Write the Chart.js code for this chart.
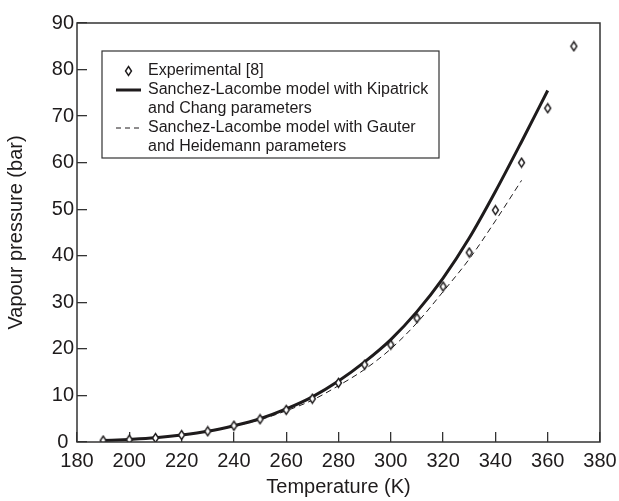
<!DOCTYPE html>
<html>
<head>
<meta charset="utf-8">
<script src="https://cdn.jsdelivr.net/npm/chart.js@4.4.1/dist/chart.umd.min.js"></script>
<style>
  html, body { margin: 0; padding: 0; background: #fff; }
  #wrap { width: 619px; height: 501px; }
</style>
</head>
<body>
<div id="wrap"><canvas id="vapourChart" width="619" height="501"></canvas></div>
<script>
// Experimental vapour pressure, temperature in K, pressure in bar
const expTemps = [190, 200, 210, 220, 230, 240, 250, 260, 270, 280, 290, 300, 310, 320, 330, 340, 350, 360, 370];
const expPressure = [0.3, 0.5, 0.85, 1.5, 2.3, 3.5, 4.9, 6.9, 9.3, 12.7, 16.6, 20.9, 26.6, 33.4, 40.7, 49.8, 60.0, 71.7, 85.0];

// Sanchez-Lacombe, Kipatrick and Chang parameters
const kcTemps = [190, 200, 210, 220, 230, 240, 250, 260, 270, 280, 290, 300, 310, 320, 330, 340, 350, 360];
const kcPressure = [0.3, 0.55, 0.9, 1.5, 2.3, 3.5, 5.0, 7.1, 9.7, 13.1, 17.2, 22.0, 28.0, 35.2, 43.8, 53.8, 64.5, 75.5];

// Sanchez-Lacombe, Gauter and Heidemann parameters
const ghTemps = [190, 200, 210, 220, 230, 240, 250, 260, 270, 280, 290, 300, 310, 320, 330, 340, 350];
const ghPressure = [0.3, 0.55, 0.9, 1.45, 2.25, 3.4, 4.8, 6.7, 9.0, 12.1, 15.6, 20.0, 25.6, 32.3, 39.3, 47.5, 56.2];

const legendLines = [
    ['Experimental [8]'],
    ['Sanchez-Lacombe model with Kipatrick', 'and Chang parameters'],
    ['Sanchez-Lacombe model with Gauter', 'and Heidemann parameters']
];

const ink = '#1e1b1c';
const fontFamily = '"Liberation Sans", Arial, Helvetica, sans-serif';

function toXY(xs, ys) {
    return xs.map((x, i) => ({ x: x, y: ys[i] }));
}

// open diamond, a bit taller than wide
function diamondMark(w, h) {
    const c = document.createElement('canvas');
    c.width = w + 3;
    c.height = h + 3;
    const g = c.getContext('2d');
    const cx = c.width / 2, cy = c.height / 2;
    g.beginPath();
    g.moveTo(cx, cy - h / 2);
    g.lineTo(cx + w / 2, cy);
    g.lineTo(cx, cy + h / 2);
    g.lineTo(cx - w / 2, cy);
    g.closePath();
    g.fillStyle = '#fff';
    g.fill();
    g.strokeStyle = ink;
    g.lineWidth = 1.4;
    g.stroke();
    return c;
}
const diamond = diamondMark(6, 9);

// closed box round the plot area
const frame = {
    id: 'frame',
    afterDraw(chart) {
        const { ctx, chartArea: a } = chart;
        ctx.save();
        ctx.strokeStyle = '#333';
        ctx.lineWidth = 1.5;
        ctx.strokeRect(a.left, a.top, a.right - a.left, a.bottom - a.top);
        ctx.restore();
    }
};

// boxed legend with wrapped labels
const legendBox = {
    id: 'legendBox',
    afterDraw(chart) {
        const { ctx, chartArea: a } = chart;
        const x0 = a.left + 25, y0 = a.top + 28;
        const w = 337, h = 107;
        const rowH = 19;
        ctx.save();
        ctx.fillStyle = '#fff';
        ctx.fillRect(x0, y0, w, h);
        ctx.strokeStyle = '#333';
        ctx.lineWidth = 1.2;
        ctx.strokeRect(x0, y0, w, h);

        ctx.font = '16px ' + fontFamily;
        ctx.fillStyle = ink;
        ctx.textBaseline = 'middle';
        const textX = x0 + 46;
        const sx1 = x0 + 14, sx2 = x0 + 39;
        let y = y0 + 20;
        legendLines.forEach((lines, i) => {
            if (i === 0) {
                ctx.drawImage(diamond, Math.round((sx1 + sx2) / 2 - diamond.width / 2), Math.round(y - diamond.height / 2));
            } else {
                ctx.beginPath();
                ctx.strokeStyle = ink;
                ctx.lineWidth = i === 1 ? 3 : 1;
                ctx.setLineDash(i === 1 ? [] : [5, 4]);
                ctx.moveTo(sx1, y);
                ctx.lineTo(sx2, y);
                ctx.stroke();
                ctx.setLineDash([]);
            }
            lines.forEach(line => {
                ctx.fillText(line, textX, y);
                y += rowH;
            });
        });
        ctx.restore();
    }
};

const tickFont = { family: fontFamily, size: 20 };

new Chart(document.getElementById('vapourChart'), {
    type: 'scatter',
    data: {
        datasets: [
            {
                label: 'Experimental [8]',
                data: toXY(expTemps, expPressure),
                pointStyle: diamond,
                pointRadius: 5,
                showLine: false,
                order: 0
            },
            {
                label: 'Sanchez-Lacombe model with Kipatrick and Chang parameters',
                data: toXY(kcTemps, kcPressure),
                showLine: true,
                borderColor: ink,
                borderWidth: 3,
                pointRadius: 0,
                cubicInterpolationMode: 'monotone',
                order: 1
            },
            {
                label: 'Sanchez-Lacombe model with Gauter and Heidemann parameters',
                data: toXY(ghTemps, ghPressure),
                showLine: true,
                borderColor: ink,
                borderWidth: 1,
                borderDash: [6, 4],
                pointRadius: 0,
                cubicInterpolationMode: 'monotone',
                order: 2
            }
        ]
    },
    options: {
        responsive: false,
        animation: false,
        layout: { padding: { top: 23, right: 19, left: 0, bottom: 0 } },
        plugins: {
            legend: { display: false },
            tooltip: { enabled: false }
        },
        scales: {
            x: {
                type: 'linear',
                min: 180,
                max: 380,
                border: { display: false },
                grid: {
                    drawOnChartArea: false,
                    drawTicks: true,
                    tickLength: -10,
                    color: '#333',
                    lineWidth: 1.3
                },
                ticks: { stepSize: 20, color: ink, font: tickFont, padding: 17, maxRotation: 0 },
                title: {
                    display: true,
                    text: 'Temperature (K)',
                    color: ink,
                    font: tickFont,
                    padding: { top: 0, bottom: 2 }
                },
                afterFit(scale) {
                    scale.height = 59;
                    scale.paddingLeft = 0;
                    scale.paddingRight = 0;
                }
            },
            y: {
                min: 0,
                max: 90,
                border: { display: false },
                grid: {
                    drawOnChartArea: false,
                    drawTicks: true,
                    tickLength: -10,
                    color: '#333',
                    lineWidth: 1.3
                },
                ticks: { stepSize: 10, color: ink, font: tickFont, padding: 13, crossAlign: 'center' },
                title: {
                    display: true,
                    text: 'Vapour pressure (bar)',
                    color: ink,
                    font: tickFont,
                    padding: { top: 4, bottom: 0 }
                },
                afterFit(scale) {
                    scale.width = 77;
                    scale.paddingTop = 0;
                    scale.paddingBottom = 0;
                }
            }
        }
    },
    plugins: [frame, legendBox]
});
</script>
</body>
</html>
